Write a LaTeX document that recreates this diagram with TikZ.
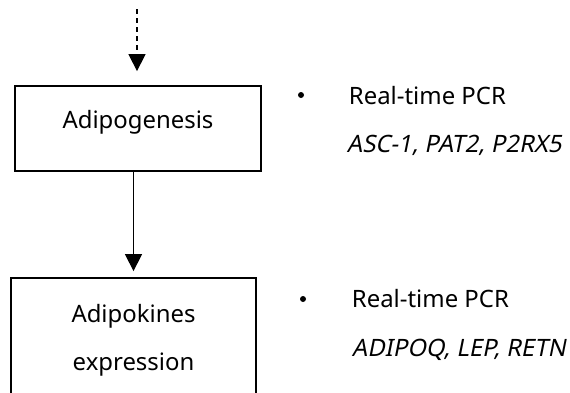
\documentclass[tikz,border=0pt]{standalone}
\usepackage{fontspec}
\setmainfont{Noto Sans}
\newfontfamily\genefont[FakeSlant=0.2]{Noto Sans}
\usetikzlibrary{arrows.meta,positioning}

\begin{document}
\begin{tikzpicture}[x=1bp, y=-1bp, line width=1.3bp, font=\fontsize{24}{48}\selectfont,
    tip/.style={-{Triangle[width=17bp,length=17bp]}},
    dot/.style={circle, fill, inner sep=0pt, minimum size=6bp}]
   \useasboundingbox (0,0) rectangle (570,392);
   \begin{scope}[every node/.style={draw, line width=1.8bp, align=center, inner sep=0pt}]
    \node (adipo) [minimum width=246bp, minimum height=85bp, text height=17bp, text depth=18bp] at (138,128.5) {Adipogenesis};
    \node (kines) [minimum width=245bp, minimum height=118bp, text height=83bp, text depth=17bp] at (133.5,337) {Adipokines\\expression};
   \end{scope}
   % methods beside each box
   \node (dot1) [dot] at (301,95) {};
   \node (pcr1) [anchor=base west] at (345,104) {Real-time PCR};
   \node (gene1) [below=48bp of pcr1.base west, anchor=base west, xshift=-2bp] {\genefont ASC-1, PAT2, P2RX5};
   \node (dot2) [dot] at (303,299) {};
   \node (pcr2) [anchor=base west] at (348,307) {Real-time PCR};
   \node (gene2) [below=49bp of pcr2.base west, anchor=base west] {\genefont ADIPOQ, LEP, RETN};
   \coordinate (start) at (137,9);
   \draw [tip, dash pattern=on 5bp off 4bp, shorten >=14bp] (start) -- (start |- adipo.north);
   \draw [tip, shorten >=6bp] (adipo.south -| kines.north) -- (kines.north);
\end{tikzpicture}
\end{document}
